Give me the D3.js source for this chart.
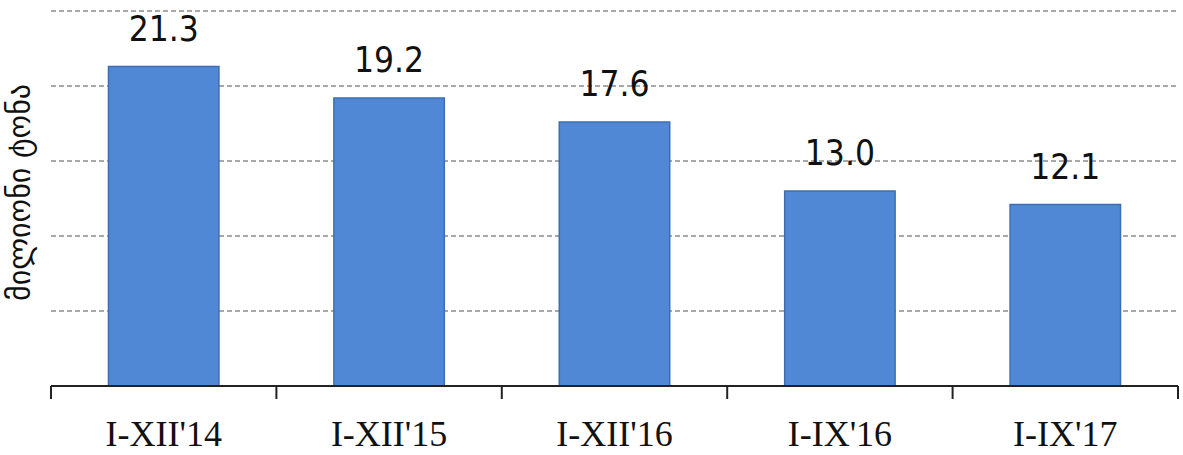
<!DOCTYPE html>
<html>
<head>
<meta charset="utf-8">
<script src="https://cdn.jsdelivr.net/npm/d3@7"></script>
<style>
  body { margin: 0; background: #fff; }
</style>
</head>
<body>
<script>
var categories = ["I-XII'14", "I-XII'15", "I-XII'16", "I-IX'16", "I-IX'17"];
var values = [21.3, 19.2, 17.6, 13.0, 12.1];
var yTicks = [0, 5, 10, 15, 20, 25];
var yTitle = "მილიონი ტონა";

var data = categories.map(function(c, i) { return { name: c, value: values[i] }; });

var margin = { top: 11, right: 5, bottom: 69, left: 51 };
var width = 1183 - margin.left - margin.right;
var height = 455 - margin.top - margin.bottom;

var svg = d3.select('body').append('svg')
  .attr('width', 1183)
  .attr('height', 455)
  .append('g')
  .attr('transform', 'translate(' + margin.left + ',' + margin.top + ')');

var xScale = d3.scaleBand().range([0, width]).paddingInner(0.51).paddingOuter(0.255)
  .domain(categories);
var yScale = d3.scaleLinear().range([height, 0]).domain([0, 25]);

// dashed gridlines
svg.selectAll('.grid')
  .data(yTicks.slice(1))
  .enter()
  .append('line')
  .attr('x1', 0)
  .attr('x2', width)
  .attr('y1', function(d) { return yScale(d); })
  .attr('y2', function(d) { return yScale(d); })
  .attr('stroke', '#8c8c8c')
  .attr('stroke-width', 1.5)
  .attr('stroke-dasharray', '5,3');

// bars
svg.selectAll('.bar')
  .data(data)
  .enter()
  .append('rect')
  .attr('x', function(d) { return xScale(d.name); })
  .attr('y', function(d) { return yScale(d.value); })
  .attr('width', xScale.bandwidth())
  .attr('height', function(d) { return height - yScale(d.value); })
  .attr('fill', '#5088d5')
  .attr('stroke', '#3d6db0')
  .attr('stroke-width', 1.5);

// value labels
svg.selectAll('.val')
  .data(data)
  .enter()
  .append('text')
  .attr('x', function(d) { return xScale(d.name) + xScale.bandwidth() / 2; })
  .attr('y', function(d) { return yScale(d.value) - 26; })
  .attr('text-anchor', 'middle')
  .attr('font-family', 'DejaVu Sans Condensed, DejaVu Sans, sans-serif')
  .attr('font-size', 35)
  .attr('fill', '#111')
  .text(function(d) { return d.value.toFixed(1); });

// x axis with category boundary ticks
var xAxis = svg.append('g')
  .attr('transform', 'translate(0,' + height + ')');

xAxis.append('line')
  .attr('x1', 0).attr('x2', width)
  .attr('y1', 0).attr('y2', 0)
  .attr('stroke', '#222').attr('stroke-width', 2);

var bounds = d3.range(categories.length + 1).map(function(i) { return i * xScale.step(); });
xAxis.selectAll('.tk')
  .data(bounds)
  .enter()
  .append('line')
  .attr('x1', function(d) { return d; })
  .attr('x2', function(d) { return d; })
  .attr('y1', 0).attr('y2', 13)
  .attr('stroke', '#222').attr('stroke-width', 2);

xAxis.selectAll('.lbl')
  .data(categories)
  .enter()
  .append('text')
  .attr('x', function(d) { return xScale(d) + xScale.bandwidth() / 2; })
  .attr('y', 60)
  .attr('text-anchor', 'middle')
  .attr('font-family', 'Liberation Serif, DejaVu Serif, serif')
  .attr('font-size', 36)
  .attr('fill', '#111')
  .text(function(d) { return d; });

// y title
svg.append('text')
  .attr('transform', 'translate(' + (-21) + ',' + yScale(12.9) + ') rotate(-90)')
  .attr('text-anchor', 'middle')
  .attr('font-family', 'DejaVu Sans, sans-serif')
  .attr('font-size', 30)
  .attr('fill', '#111')
  .text(yTitle);
</script>
</body>
</html>
